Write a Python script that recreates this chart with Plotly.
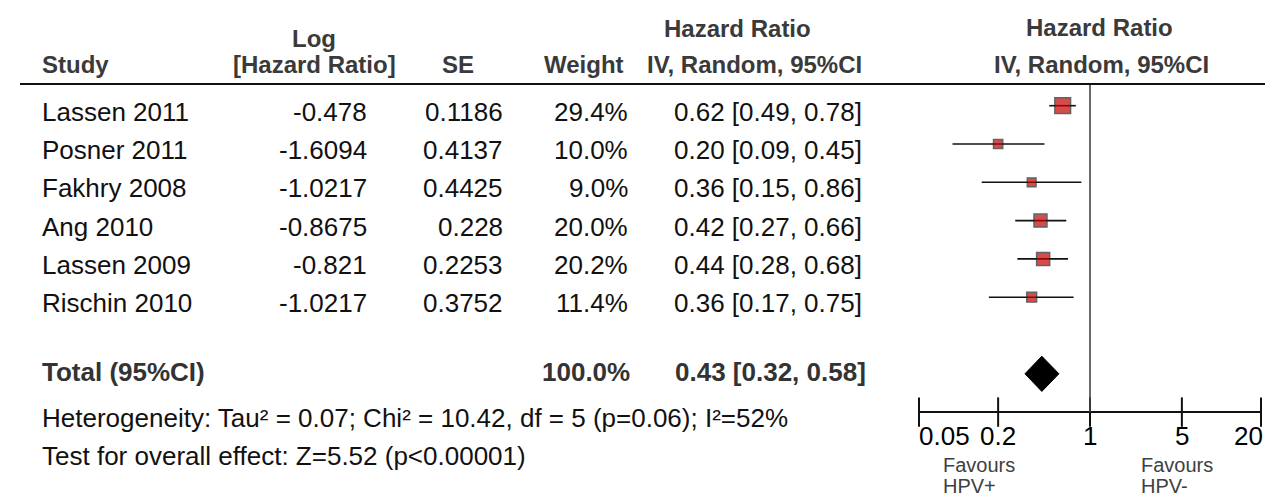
import numpy as np
import plotly.graph_objects as go

# ---------------- data ----------------
studies = ["Lassen 2011", "Posner 2011", "Fakhry 2008", "Ang 2010", "Lassen 2009", "Rischin 2010"]
log_hr_text = ["-0.478", "-1.6094", "-1.0217", "-0.8675", "-0.821", "-1.0217"]
se_text = ["0.1186", "0.4137", "0.4425", "0.228", "0.2253", "0.3752"]
weights = [29.4, 10.0, 9.0, 20.0, 20.2, 11.4]
hr = [0.62, 0.20, 0.36, 0.42, 0.44, 0.36]
hr_lo = [0.49, 0.09, 0.15, 0.27, 0.28, 0.17]
hr_hi = [0.78, 0.45, 0.86, 0.66, 0.68, 0.75]

total_label = "Total (95%CI)"
total_weight = 100.0
total_hr = 0.43
total_lo = 0.32
total_hi = 0.58

heterogeneity = "Heterogeneity: Tau² = 0.07; Chi² = 10.42, df = 5 (p=0.06); I²=52%"
overall_test = "Test for overall effect: Z=5.52 (p<0.00001)"

tick_vals = [0.05, 0.2, 1, 5, 20]
tick_text = ["0.05", "0.2", "1", "5", "20"]
null_value = 1
favours_left = ["Favours", "HPV+"]
favours_right = ["Favours", "HPV-"]

# ---------------- layout constants ----------------
W, H = 1273, 497
ROW0_PX, ROW_PX = 97.7, 38.3
TOTAL_ROW = 7
AXIS_ROW = 8
HEADER_ROW = (76 - ROW0_PX) / ROW_PX
y_top = -ROW0_PX / ROW_PX
y_bot = (H - ROW0_PX) / ROW_PX

FONT = "Liberation Sans, Arial, sans-serif"
BODY = 26
HEAD = 24
HEAD_COL = "#3a3a3a"
BODY_COL = "#111111"

rows = list(range(len(studies)))

fig = go.Figure()

# CI lines + weighted squares
fig.add_trace(go.Scatter(
    x=hr, y=rows, mode="markers",
    error_x=dict(type="data", symmetric=False,
                 array=[h - m for h, m in zip(hr_hi, hr)],
                 arrayminus=[m - l for m, l in zip(hr, hr_lo)],
                 width=0, thickness=1.6, color="#111111"),
    marker=dict(symbol="square", color="#c80000",
                size=[2.9 * np.sqrt(w) for w in weights],
                line=dict(color="#222222", width=1.5)),
    cliponaxis=False, showlegend=False, hoverinfo="skip"))

# pooled diamond
dh = 0.46
fig.add_trace(go.Scatter(
    x=[total_lo, total_hr, total_hi, total_hr, total_lo],
    y=[TOTAL_ROW, TOTAL_ROW - dh, TOTAL_ROW, TOTAL_ROW + dh, TOTAL_ROW],
    mode="lines", fill="toself", fillcolor="#000000",
    line=dict(color="#000000", width=1), showlegend=False, hoverinfo="skip"))

# axis line with crossing ticks
fig.add_trace(go.Scatter(
    x=tick_vals, y=[AXIS_ROW] * len(tick_vals), mode="lines+markers",
    line=dict(color="#111111", width=2),
    marker=dict(symbol="line-ns", size=21, line=dict(color="#111111", width=2)),
    cliponaxis=False, showlegend=False, hoverinfo="skip"))

shapes = [
    dict(type="line", xref="x", yref="y", x0=null_value, x1=null_value,
         y0=HEADER_ROW, y1=AXIS_ROW, line=dict(color="#444444", width=1.6)),
    dict(type="line", xref="paper", yref="y", x0=12 / W, x1=1,
         y0=HEADER_ROW, y1=HEADER_ROW, line=dict(color="#111111", width=2)),
]

ann = []


def txt(xpx, ypx, text, anchor="left", size=BODY, color=BODY_COL, bold=False):
    ann.append(dict(x=xpx / W, y=1 - ypx / H, xref="paper", yref="paper",
                    text=f"<b>{text}</b>" if bold else text, showarrow=False,
                    xanchor=anchor, yanchor="middle",
                    font=dict(family=FONT, size=size, color=color)))


def cell(xpx, row, text, anchor, bold=False, color=BODY_COL, yshift=-6):
    ann.append(dict(x=xpx / W, y=row, xref="paper", yref="y",
                    text=f"<b>{text}</b>" if bold else text, showarrow=False,
                    xanchor=anchor, yanchor="middle", yshift=yshift,
                    font=dict(family=FONT, size=BODY, color=color)))


# headers
txt(32, 57, "Study", "left", HEAD, HEAD_COL, True)
txt(306, 31, "Log", "center", HEAD, HEAD_COL, True)
txt(306, 57, "[Hazard Ratio]", "center", HEAD, HEAD_COL, True)
txt(450, 57, "SE", "center", HEAD, HEAD_COL, True)
txt(618, 57, "Weight", "right", HEAD, HEAD_COL, True)
txt(729, 20, "Hazard Ratio", "center", HEAD, HEAD_COL, True)
txt(746, 57, "IV, Random, 95%CI", "center", HEAD, HEAD_COL, True)
txt(1091, 19, "Hazard Ratio", "center", HEAD, HEAD_COL, True)
txt(1093, 57, "IV, Random, 95%CI", "center", HEAD, HEAD_COL, True)

# study rows
for i, s in enumerate(studies):
    cell(32, i, s, "left")
    cell(361, i, log_hr_text[i], "right")
    cell(497, i, se_text[i], "right")
    cell(622, i, f"{weights[i]:.1f}%", "right")
    cell(856, i, f"{hr[i]:.2f} [{hr_lo[i]:.2f}, {hr_hi[i]:.2f}]", "right")

# total row
cell(32, TOTAL_ROW, total_label, "left", True, "#333333", 2)
cell(624, TOTAL_ROW, f"{total_weight:.1f}%", "right", True, "#333333", 2)
cell(860, TOTAL_ROW, f"{total_hr:.2f} [{total_lo:.2f}, {total_hi:.2f}]", "right", True, "#333333", 2)

txt(32, 410, heterogeneity, "left")
txt(32, 448, overall_test, "left")

# tick labels
anchors = ["left", "center", "center", "center", "right"]
shifts = [-2, 0, 0, 0, 4]
for v, t, a, s in zip(tick_vals, tick_text, anchors, shifts):
    ann.append(dict(x=np.log10(v), y=AXIS_ROW, xref="x", yref="y", text=t,
                    showarrow=False, xanchor=a, yanchor="middle", xshift=s,
                    yshift=-(428 - 404),
                    font=dict(family=FONT, size=26, color="#000000")))

# favours labels
for j, line in enumerate(favours_left):
    txt(933, 457 + 21 * j, line, "left", 20, "#404040")
for j, line in enumerate(favours_right):
    txt(1131, 457 + 21 * j, line, "left", 20, "#404040")

fig.update_layout(
    width=W, height=H, margin=dict(l=0, r=0, t=0, b=0),
    paper_bgcolor="white", plot_bgcolor="white",
    xaxis=dict(type="log", domain=[911 / W, 1253 / W],
               range=[np.log10(tick_vals[0]), np.log10(tick_vals[-1])],
               visible=False),
    yaxis=dict(range=[y_bot, y_top], domain=[0, 1], visible=False),
    shapes=shapes, annotations=ann, showlegend=False,
)

fig.write_html("out.html")
